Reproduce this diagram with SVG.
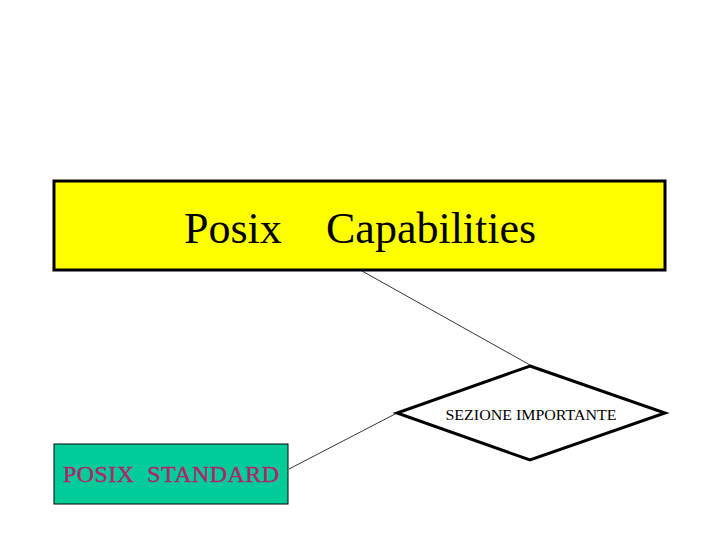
<svg xmlns="http://www.w3.org/2000/svg" width="720" height="540" viewBox="0 0 720 540">
<style>
text{font-family:"Liberation Serif","Times New Roman",serif}
.thick{stroke:#000;stroke-width:3}
.conn{stroke:#000;stroke-width:0.8;fill:none}
</style>
<rect width="720" height="540" fill="#fff"/>
<g id="connectors">
<line class="conn" x1="362" y1="271" x2="530" y2="365"/>
<line class="conn" x1="289" y1="469" x2="397" y2="413"/>
</g>
<g id="posix-capabilities">
<rect class="thick" x="54" y="181" width="611" height="89" fill="#ffff00"/>
<text x="184" y="243" font-size="44" fill="#000">Posix</text>
<text x="326" y="243" font-size="44" fill="#000">Capabilities</text>
</g>
<g id="sezione-importante">
<polygon class="thick" points="530,366 665,413 530,460 397,413" fill="#fff"/>
<text x="531" y="420" font-size="15" text-anchor="middle" textLength="171" lengthAdjust="spacingAndGlyphs" fill="#000">SEZIONE IMPORTANTE</text>
</g>
<g id="posix-standard">
<rect x="54" y="444" width="234" height="60" fill="#00cc99" stroke="#000" stroke-width="1"/>
<text x="63" y="482" font-size="24" textLength="216" lengthAdjust="spacing" fill="#b0246a" stroke="#b0246a" stroke-width="0.4" xml:space="preserve">POSIX  STANDARD</text>
</g>
</svg>
